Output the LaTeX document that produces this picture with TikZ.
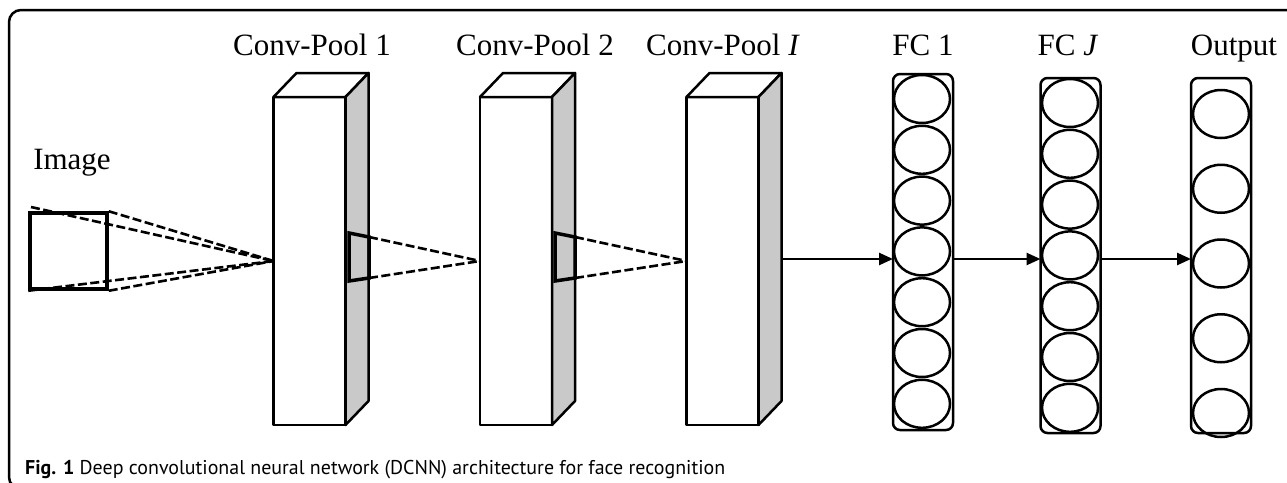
\documentclass[tikz,border=0pt]{standalone}
\usepackage{fontspec}
\setmainfont{Liberation Serif}
\newfontfamily\capfont{PT Sans}
\usepackage{tikz}
\usetikzlibrary{calc,arrows.meta,shapes.geometric,positioning}
\definecolor{sidegray}{HTML}{C9C9C9}

\tikzset{
  face/.style={draw=black, line width=2.5pt, line join=round},
  front/.style={face, fill=white, inner sep=0pt, outer sep=0pt,
                minimum width=72pt, minimum height=328pt},
  patch/.style={draw=black, line width=3.5pt, line join=miter},
  rf/.style={draw=black, line width=2.6pt, dash pattern=on 9pt off 3.5pt},
  layer/.style={draw=black, line width=2.5pt, rounded corners=7pt,
                inner sep=0pt, outer sep=0pt, minimum width=60pt},
  unit/.style={draw=black, line width=2.5pt, ellipse, inner sep=0pt,
               minimum width=56pt, minimum height=48pt},
  lbl/.style={font=\fontsize{31}{36}\selectfont, anchor=base, inner sep=0pt},
  arr/.style={line width=2.5pt, -{Triangle[length=14pt,width=12pt]}}
}

\begin{document}
\begin{tikzpicture}[x=1pt, y=-1pt]
\useasboundingbox (0,0) rectangle (1287,482);

% frame
\draw[line width=2.5pt, rounded corners=12pt] (1300,10) -- (9,10) -- (9,489) -- (1300,489);

% input image
\node[draw=black, line width=3.5pt, inner sep=0pt, minimum width=77pt,
      minimum height=76pt] (img) at (68.5,251) {};
\coordinate (imgb) at (31,207);

% conv-pool blocks
\foreach \n/\x in {cp1/309.5, cp2/516, cp3/722.5} {
  \node[front] (\n) at (\x,261) {};
  \draw[face, fill=white] (\n.north west) -- ++(23,-24) -- ++(72,0)
        -- (\n.north east) -- cycle;
  \draw[face, fill=sidegray] (\n.north east) -- ++(23,-24) -- ++(0,328)
        -- (\n.south east) -- cycle;
}

% receptive fields
\draw[rf] (imgb) -- (cp1.west);
\draw[rf] (img.north east) -- (cp1.west);
\draw[rf] (img.south west) -- (cp1.west);
\draw[rf] (img.south east) -- (cp1.west);

\draw[patch] (349,233) coordinate (pa1) -- (369,237) coordinate (pa2)
      -- (369,278) coordinate (pa3) -- (349,281) coordinate (pa4) -- cycle;
\draw[rf] (pa2) -- (cp2.west);
\draw[rf] (pa3) -- (cp2.west);

\draw[patch] (555,233) coordinate (pb1) -- (575,237) coordinate (pb2)
      -- (575,278) coordinate (pb3) -- (555,281) coordinate (pb4) -- cycle;
\draw[rf] (pb2) -- (cp3.west);
\draw[rf] (pb3) -- (cp3.west);

% fully connected layers
\node[layer, minimum height=356pt] (fc1) at (923,252) {};
\node[layer, minimum height=355pt] (fcj) at (1070.5,255.5) {};
\node[layer, minimum height=355pt] (out) at (1221,255.5) {};

\foreach \i in {0,...,6} {
  \node[unit] (fa-\i) at (922,99+50.8*\i) {};
  \node[unit] (fb-\i) at (1070,103+50.8*\i) {};
}
\foreach \i in {0,...,4}
  \node[unit] (fo-\i) at (1221,114+74.75*\i) {};

% connections
\coordinate (cp3s) at (782,259);
\draw[arr] (cp3s) -- (cp3s -| fc1.west);
\draw[arr] (fc1.east |- cp3s) -- (fcj.west |- cp3s);
\draw[arr] (fcj.east |- cp3s) -- (out.west |- cp3s);

% labels
\node[lbl] (limg) at (72,169) {Image};
\node[lbl] (l1) at (312,55) {Conv-Pool 1};
\node[lbl] (l2) at (535,55) {Conv-Pool 2};
\node[lbl] (l3) at (723,55) {Conv-Pool \textit{I}};
\node[lbl] (l4) at (923,55) {FC 1};
\node[lbl] (l5) at (1068,55) {FC \textit{J}};
\node[lbl] (l6) at (1234,55) {Output};

% caption
\node[anchor=base west, inner sep=0pt] (cap) at (25,474)
  {\resizebox{700pt}{!}{\capfont\textbf{Fig. 1} Deep convolutional neural network (DCNN) architecture for face recognition}};
\end{tikzpicture}
\end{document}
